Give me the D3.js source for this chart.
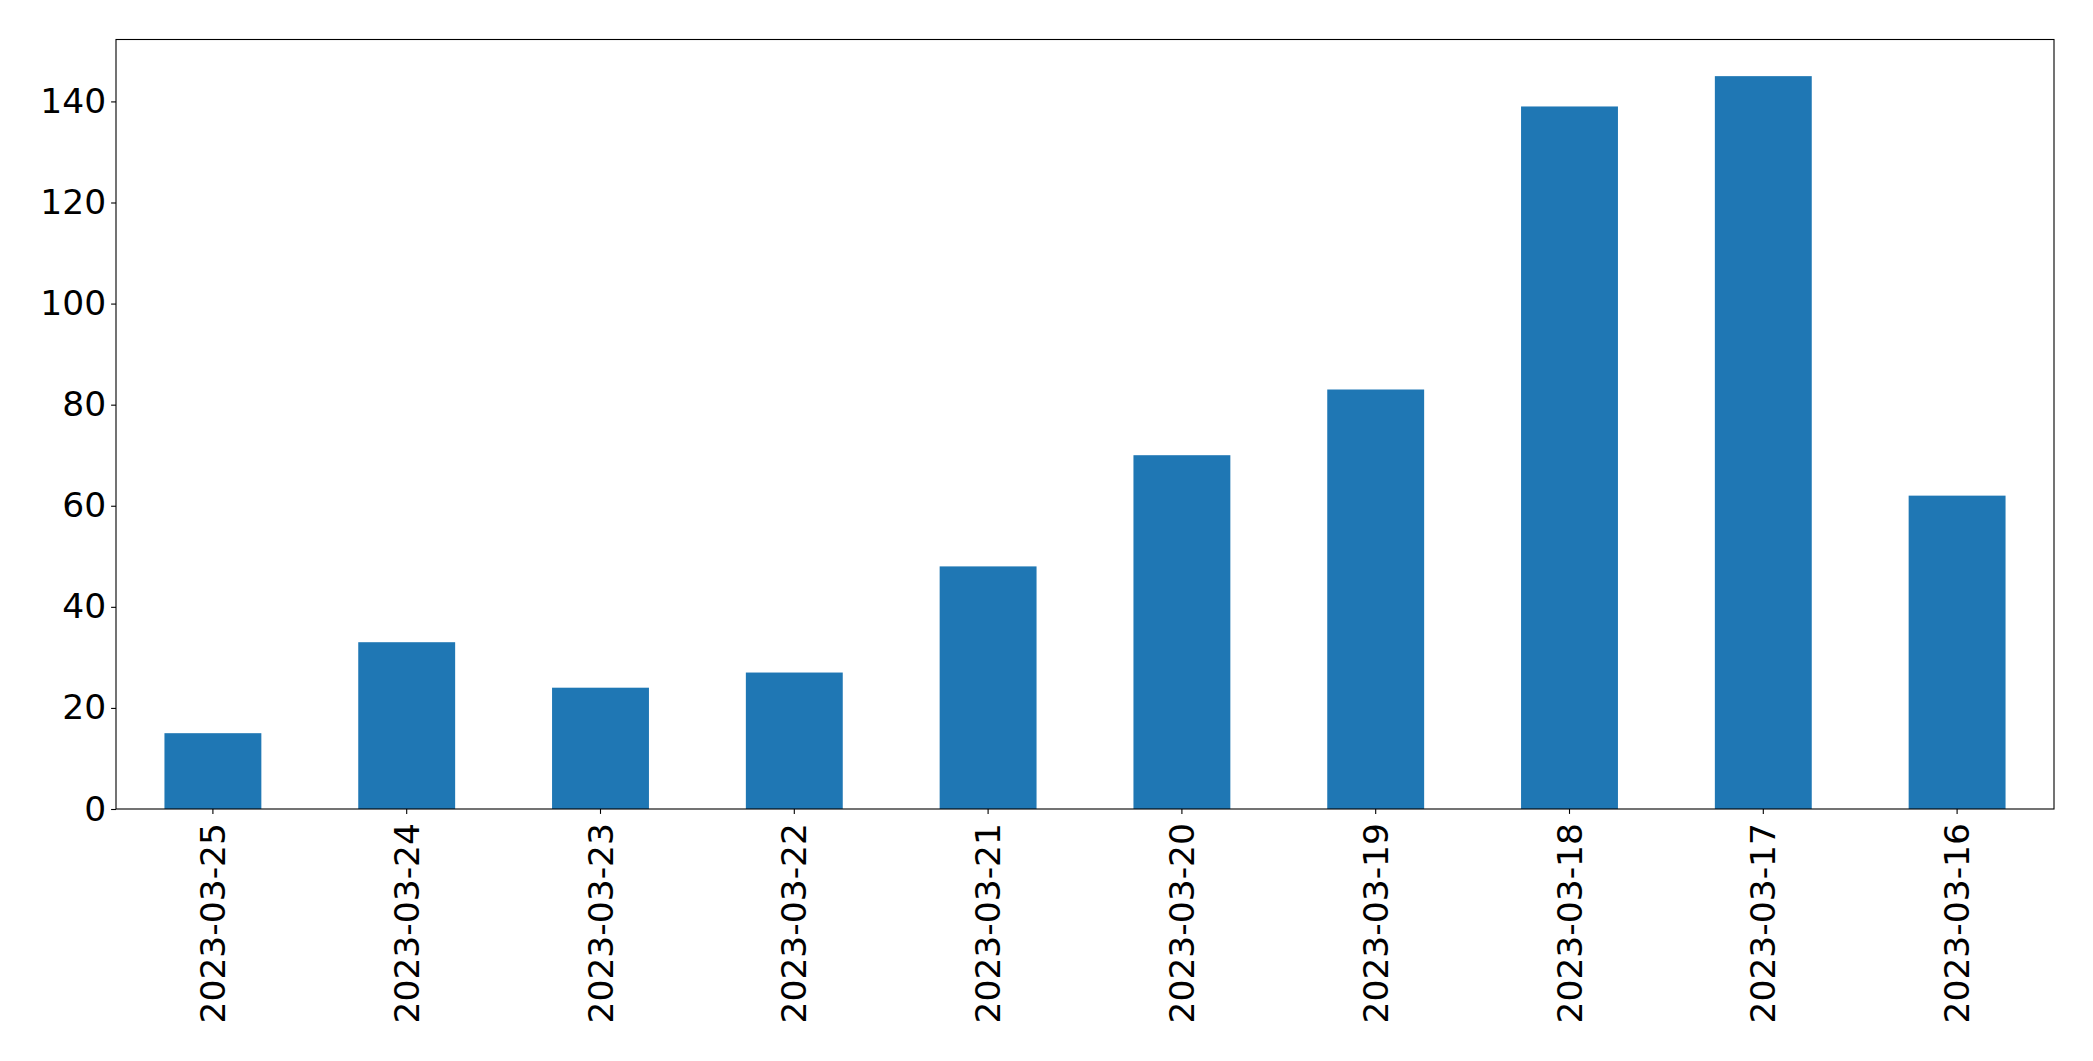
<!DOCTYPE html>
<html>
<head>
<meta charset="utf-8">
<script src="https://cdn.jsdelivr.net/npm/d3@7"></script>
<style>
  body { margin: 0; background: #fff; }
  svg { display: block; }
</style>
</head>
<body>
<div id="chart"></div>
<script>
// data
const dates = ['2023-03-25', '2023-03-24', '2023-03-23', '2023-03-22', '2023-03-21',
    '2023-03-20', '2023-03-19', '2023-03-18', '2023-03-17', '2023-03-16'];
const counts = [15, 33, 24, 27, 48, 70, 83, 139, 145, 62];
const yTicks = [0, 20, 40, 60, 80, 100, 120, 140];

const width = 2093, height = 1061;
const margin = { top: 39.5, right: 39, bottom: 252, left: 116 };
const innerW = width - margin.left - margin.right;
const innerH = height - margin.top - margin.bottom;

const svg = d3.select('#chart').append('svg')
    .attr('width', width)
    .attr('height', height);

const g = svg.append('g')
    .attr('transform', `translate(${margin.left},${margin.top})`);

// band scale: bar width is half of the step, like pandas bar plot
const x = d3.scaleBand()
    .domain(dates)
    .range([0, innerW])
    .paddingInner(0.5)
    .paddingOuter(0.25);

const yMax = d3.max(counts) * 1.05;
const y = d3.scaleLinear()
    .domain([0, yMax])
    .range([innerH, 0]);

// bars
g.selectAll('rect.bar')
    .data(dates.map((d, i) => ({ date: d, value: counts[i] })))
    .enter()
    .append('rect')
    .attr('class', 'bar')
    .attr('x', d => x(d.date))
    .attr('y', d => y(d.value))
    .attr('width', x.bandwidth())
    .attr('height', d => innerH - y(d.value))
    .attr('fill', '#1f77b4');

const font = '"DejaVu Sans", sans-serif';
const fontSize = '34.5px';

// y axis
const yAxis = g.append('g')
    .call(d3.axisLeft(y).tickValues(yTicks).tickSize(4.9).tickPadding(5));
yAxis.select('.domain').remove();
yAxis.selectAll('line').attr('stroke', '#000').attr('stroke-width', 1.1);
yAxis.selectAll('text')
    .style('font-family', font)
    .style('font-size', fontSize)
    .attr('fill', '#000');

// x axis
const xAxis = g.append('g')
    .attr('transform', `translate(0,${innerH})`)
    .call(d3.axisBottom(x).tickSize(4.9).tickPadding(5));
xAxis.select('.domain').remove();
xAxis.selectAll('line').attr('stroke', '#000').attr('stroke-width', 1.1);
xAxis.selectAll('text')
    .style('font-family', font)
    .style('font-size', fontSize)
    .attr('fill', '#000')
    .attr('dy', null)
    .attr('y', 0)
    .attr('transform', 'translate(0,14) rotate(-90)')
    .attr('text-anchor', 'end')
    .attr('dominant-baseline', 'central');

// frame
g.append('rect')
    .attr('x', 0)
    .attr('y', 0)
    .attr('width', innerW)
    .attr('height', innerH)
    .attr('fill', 'none')
    .attr('stroke', '#000')
    .attr('stroke-width', 1.1);
</script>
</body>
</html>
